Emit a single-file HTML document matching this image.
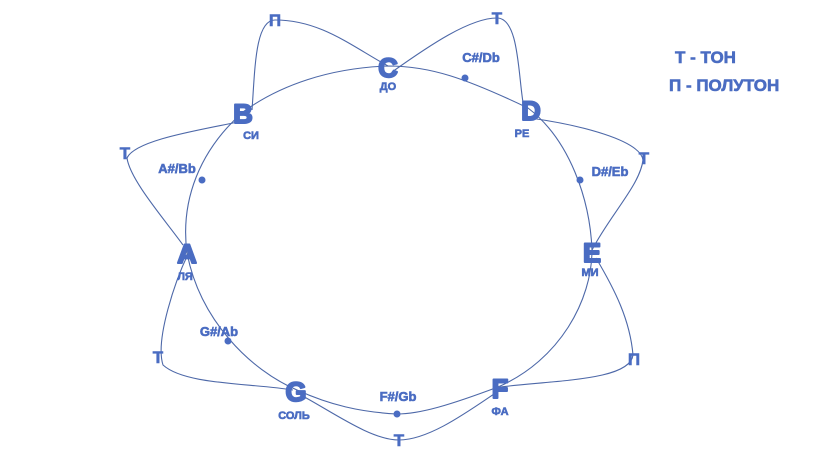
<!DOCTYPE html>
<html><head><meta charset="utf-8"><style>
body{margin:0;background:#fff;width:819px;height:460px;overflow:hidden}
text{font-family:"Liberation Sans","DejaVu Sans",sans-serif;font-weight:bold;fill:#4a6cc2}
.big text{stroke:#4a6cc2;stroke-width:2;stroke-linejoin:round}
.mid text{stroke:#4a6cc2;stroke-width:0.6}
</style></head><body>
<svg width="819" height="460" viewBox="0 0 819 460">
<g fill="none" stroke="#4d68a8" stroke-width="1.1">
<path d="M388,66 C430,66 465,78 528,108 C570,140 590,200 592,250 C592,300 560,360 498,387 C450,405 420,414 397,414 C360,412 330,405 297,390 C250,370 200,320 187,253 C180,200 200,150 243,112 C280,85 330,68 388,66 Z"/>
<path d="M252,110 C255,70 255,20 275,20 C320,20 350,45 388,66"/>
<path d="M392,72 C430,45 470,18 497,18 C520,18 518,80 524,108"/>
<path d="M530,118 C580,125 640,140 643,160 C640,185 610,215 592,250"/>
<path d="M596,258 C615,290 630,320 633,355 C630,380 560,380 500,387"/>
<path d="M500,390 C470,410 430,440 399,440 C370,440 330,410 297,393"/>
<path d="M293,390 C250,383 185,385 163,365 C155,340 175,280 190,250"/>
<path d="M183,245 C165,220 130,180 127,158 C135,140 200,130 238,122"/>
</g>
<g fill="#4a6cc2">
<circle cx="465" cy="78" r="3.5"/><circle cx="580" cy="180" r="3.5"/>
<circle cx="397" cy="414" r="3.5"/><circle cx="228" cy="341" r="3.5"/>
<circle cx="202" cy="180" r="3.5"/>
</g>
<g class="big" font-size="27" text-anchor="middle">
<text x="388" y="77">C</text><text x="531" y="120">D</text>
<text x="592" y="262">E</text><text x="500" y="398">F</text>
<text x="296" y="401">G</text><text x="187" y="263">A</text>
<text x="243" y="123">B</text>
</g>
<g class="mid" font-size="11" text-anchor="middle">
<text x="388" y="90">ДО</text><text x="522" y="137">РЕ</text>
<text x="590" y="276">МИ</text><text x="500" y="415">ФА</text>
<text x="294" y="419">СОЛЬ</text><text x="185" y="280">ЛЯ</text>
<text x="251" y="139">СИ</text>
</g>
<g class="mid" font-size="13" text-anchor="middle">
<text x="481" y="62">C#/Db</text><text x="610" y="176">D#/Eb</text>
<text x="398" y="401">F#/Gb</text><text x="219" y="336">G#/Ab</text>
<text x="177" y="173">A#/Bb</text>
</g>
<g class="mid" font-size="17" text-anchor="middle">
<text x="275" y="26">П</text><text x="497" y="24">Т</text>
<text x="644" y="164">Т</text><text x="634" y="365">П</text>
<text x="399" y="446">Т</text><text x="158" y="363">Т</text>
<text x="125" y="159">Т</text>
</g>
<g class="mid" font-size="17">
<text x="675" y="63">Т - ТОН</text>
<text x="669" y="91">П - ПОЛУТОН</text>
</g>
</svg>
</body></html>
